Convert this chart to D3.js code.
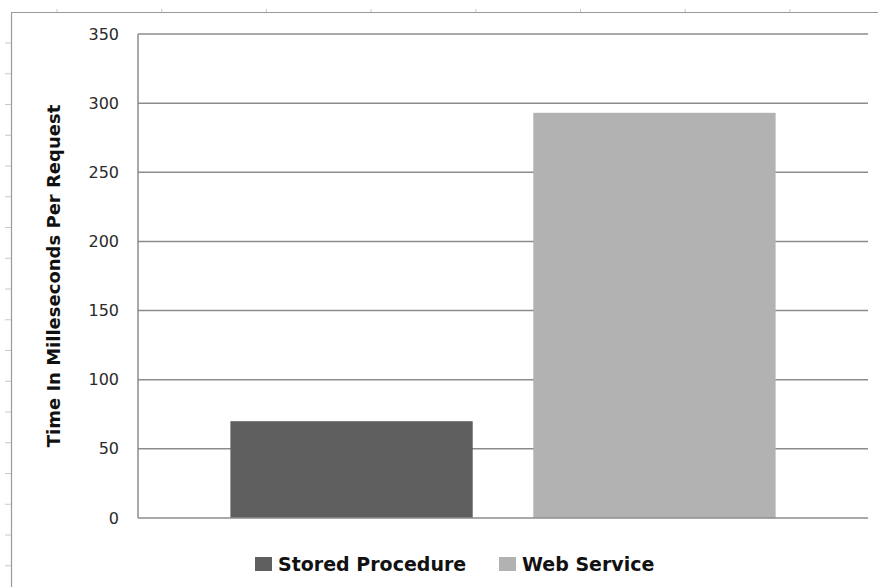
<!DOCTYPE html>
<html>
<head>
<meta charset="utf-8">
<script src="https://cdn.jsdelivr.net/npm/d3@7"></script>
<style>
  body { margin: 0; background: #fff; }
  svg { display: block; font-family: "DejaVu Sans", Verdana, sans-serif; }
  .grid line { stroke: #8c8c8c; stroke-width: 1.5; }
  .ytick text { fill: #2a2a2a; font-size: 16px; }
</style>
</head>
<body>
<script>
// data
let series = ['Stored Procedure', 'Web Service']
let values = [70, 293]
let colors = ['#5f5f5f', '#b2b2b2']
let yTicks = [0, 50, 100, 150, 200, 250, 300, 350]
let yLabel = 'Time In Milleseconds Per Request'

let width = 878
let height = 587
const margin = { top: 34, right: 10, bottom: 69, left: 138 };
let plotWidth = width - margin.left - margin.right;
let plotHeight = height - margin.top - margin.bottom;

let svg = d3.select('body')
    .append('svg')
    .attr('width', width)
    .attr('height', height);

// spreadsheet-ish frame around the chart
let frame = svg.append('g').attr('class', 'frame');
frame.append('line').attr('x1', 11).attr('x2', width).attr('y1', 12.5).attr('y2', 12.5)
    .attr('stroke', '#9a9a9a').attr('stroke-width', 1.2);
frame.append('line').attr('x1', 11.5).attr('x2', 11.5).attr('y1', 12).attr('y2', height)
    .attr('stroke', '#9a9a9a').attr('stroke-width', 1.2);
d3.range(57, width, 104.7).forEach(x => {
    frame.append('line').attr('x1', x).attr('x2', x).attr('y1', 9).attr('y2', 12)
        .attr('stroke', '#c8c8c8');
});
d3.range(43, height, 30.75).forEach(y => {
    frame.append('line').attr('x1', 5).attr('x2', 11).attr('y1', y).attr('y2', y)
        .attr('stroke', '#c8c8c8');
});

let plot = svg.append('g').attr('transform', `translate(${margin.left},${margin.top})`);

let y = d3.scaleLinear().domain([0, 350]).range([plotHeight, 0]);
let x = d3.scaleBand().domain(series).range([0, plotWidth]).paddingInner(0.2).paddingOuter(0.305);

// gridlines
plot.append('g').attr('class', 'grid')
    .selectAll('line').data(yTicks.filter(d => d > 0))
    .join('line')
    .attr('x1', 0).attr('x2', plotWidth)
    .attr('y1', d => y(d)).attr('y2', d => y(d));

// bars
plot.selectAll('rect.bar').data(series)
    .join('rect')
    .attr('class', 'bar')
    .attr('x', d => x(d))
    .attr('width', x.bandwidth())
    .attr('y', (d, i) => y(values[i]))
    .attr('height', (d, i) => plotHeight - y(values[i]))
    .attr('fill', (d, i) => colors[i]);

// axes lines
plot.append('line').attr('x1', 0).attr('x2', plotWidth).attr('y1', plotHeight).attr('y2', plotHeight)
    .attr('stroke', '#8c8c8c').attr('stroke-width', 1.5);
plot.append('line').attr('x1', 0).attr('x2', 0).attr('y1', 0).attr('y2', plotHeight)
    .attr('stroke', '#8c8c8c').attr('stroke-width', 1.5);

// y tick labels
plot.append('g').attr('class', 'ytick')
    .selectAll('text').data(yTicks)
    .join('text')
    .attr('x', -19)
    .attr('y', d => y(d))
    .attr('dy', '0.35em')
    .attr('text-anchor', 'end')
    .text(d => d);

// y axis title
svg.append('text')
    .attr('transform', 'translate(54,276) rotate(-90)')
    .attr('dy', '0.35em')
    .attr('text-anchor', 'middle')
    .style('font-weight', 'bold')
    .style('font-size', '18px')
    .attr('fill', '#111')
    .text(yLabel);

// legend
let legend = svg.append('g').attr('transform', 'translate(0,564)');
let legX = [255, 499];
series.forEach((s, i) => {
    legend.append('rect').attr('x', legX[i]).attr('y', -7).attr('width', 17).attr('height', 14)
        .attr('fill', colors[i]);
    legend.append('text').attr('x', legX[i] + 23).attr('y', 0).attr('dy', '0.35em')
        .style('font-weight', 'bold').style('font-size', '19px').attr('fill', '#111')
        .text(s);
});
</script>
</body>
</html>
